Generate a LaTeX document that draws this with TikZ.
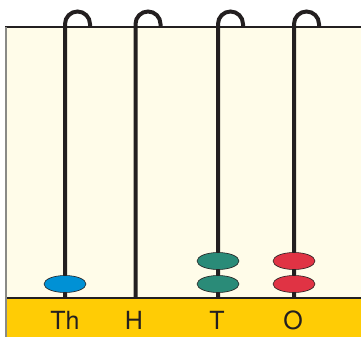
\documentclass[tikz,border=0pt]{standalone}
\usepackage{fontspec}
\setmainfont{TeX Gyre Heros}
\usetikzlibrary{shapes.geometric}
\definecolor{cream}{HTML}{FFFCE9}
\definecolor{baseyellow}{HTML}{FFCC05}
\definecolor{ink}{HTML}{231F20}
\definecolor{beadblue}{HTML}{0091D5}
\definecolor{beadteal}{HTML}{2A8B78}
\definecolor{beadred}{HTML}{E03344}
\definecolor{edgegray}{HTML}{8A8A86}
\tikzset{
  rod/.style={draw=ink, line width=4pt},
  bead/.style={ellipse, draw=ink, line width=0.6pt, minimum width=42pt, minimum height=17pt, inner sep=0pt},
  lbl/.style={text=ink, font=\fontsize{25}{30}\selectfont, inner sep=0pt, anchor=base}
}
\begin{document}
\begin{tikzpicture}[x=1pt,y=-1pt]
\useasboundingbox (0,0) rectangle (361,337);
% panel and base
\fill[cream] (5,27) rectangle (361,298);
\fill[baseyellow] (5,298) rectangle (361,337);
\draw[ink, line width=1.5pt] (5,27) -- (361,27);
\draw[ink, line width=1.5pt] (5,298) -- (361,298);
\draw[edgegray, line width=2pt] (5.5,27) -- (5.5,337);
% rods with hooks
\foreach \x in {65,135.5,218,294}{
  \draw[rod] (\x,298) -- (\x,24) arc[start angle=180, end angle=360, radius=12.5] -- ++(0,3);
}
% beads
\node[bead, fill=beadblue] (th1) at (65,284) {};
\node[bead, fill=beadteal] (t1) at (218,284) {};
\node[bead, fill=beadteal] (t2) at (218,261) {};
\node[bead, fill=beadred] (o1) at (294,284) {};
\node[bead, fill=beadred] (o2) at (294,261) {};
% labels
\node[lbl] (lth) at (65,329) {Th};
\node[lbl] (lh) at (134,329) {H};
\node[lbl] (lt) at (217,329) {T};
\node[lbl] (lo) at (293,329) {O};
\end{tikzpicture}
\end{document}
